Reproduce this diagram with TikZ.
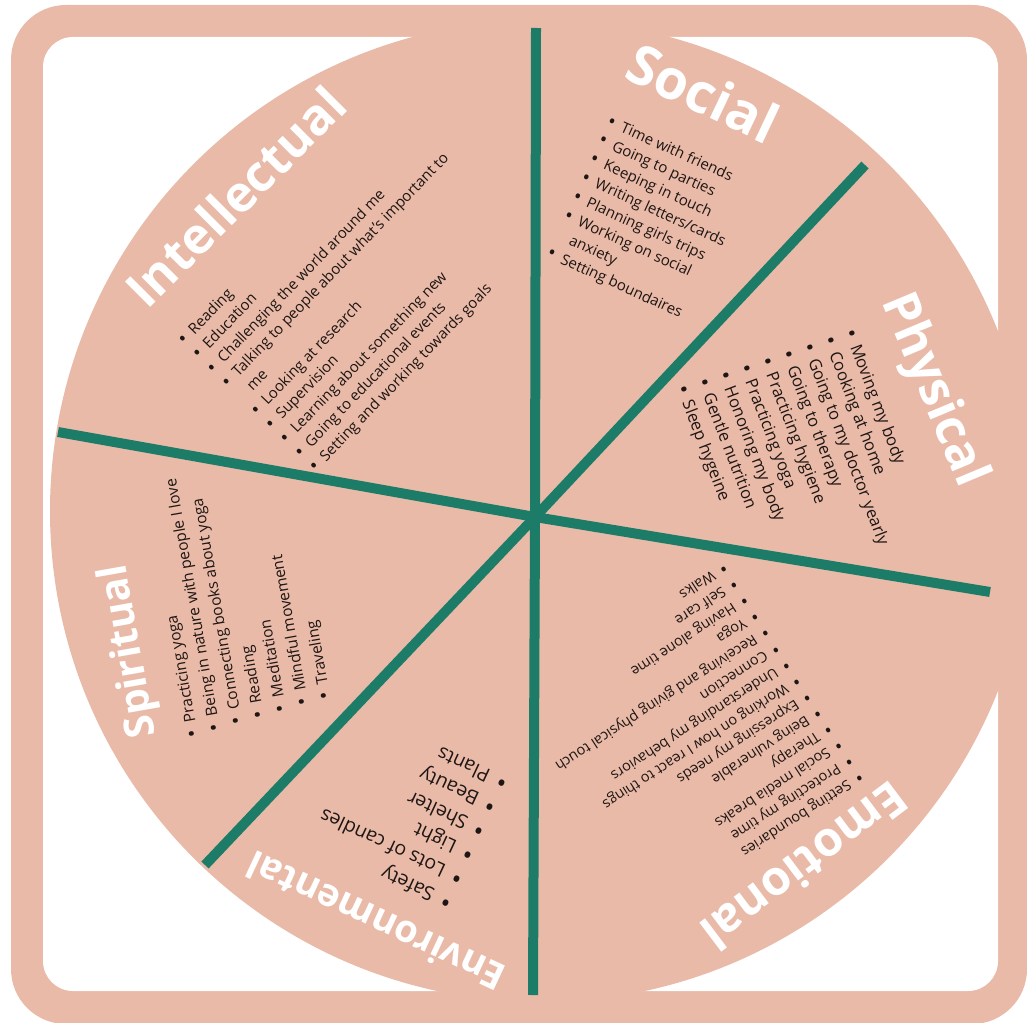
\documentclass[tikz,border=0pt]{standalone}
\usepackage{fontspec}
\setmainfont{Open Sans}
\definecolor{peach}{HTML}{E9BAA8}
\definecolor{wheelgreen}{HTML}{1D7C68}
\definecolor{ink}{HTML}{1E1614}
\newcommand{\bul}{\makebox[1em][l]{\raisebox{-0.08em}{\scalebox{1.35}{\textbullet}}}}
\newcommand{\cont}{\hspace*{1em}}

\begin{document}
\begin{tikzpicture}[x=1pt,y=-1pt,
    head/.style={font=\fontsize{#1}{#1}\selectfont\bfseries, text=white,
      inner sep=0pt, text height=0.72em, text depth=0pt},
    item/.style={anchor=base west, inner sep=0pt, text=ink, transform shape}]
  \useasboundingbox (0,0) rectangle (1027,1022);
  \fill[white] (0,0) rectangle (1027,1022);
  \fill[peach, rounded corners=55pt] (11,5) rectangle (1027,1024);
  \fill[white, rounded corners=30pt] (43,37) rectangle (998,991);
  \fill[peach] (541,511) circle[radius=491pt];
  %
  \coordinate (c) at (535,517);
  \foreach \x/\y in {536/28, 533/995, 865/165, 205/865, 990/592, 58/432}
    \draw[wheelgreen, line width=10pt] (c) -- (\x,\y);
  %
  \node[head=50, rotate=45] (intel) at (246,207) {Intellectual};
  \node[head=55, rotate=-25.3] (social) at (696,108) {Social};
  \node[head=50, rotate=-67.3] (phys) at (924,394) {Physical};
  \node[head=48, rotate=-143] (emo) at (796,855) {Emotional};
  \node[head=38, rotate=155] (env) at (380,912) {Environmental};
  \node[head=41, rotate=100] (spirit) at (137,650) {Spiritual};
  %
  \begin{scope}[shift={(182,340)}, rotate=46, font=\fontsize{15}{18}\selectfont]
    \foreach \t [count=\i from 0] in {\bul Reading, \bul Education,
        \bul Challenging the world around me,
        \bul Talking to people about what's important to, \cont me,
        \bul Looking at research, \bul Supervision,
        \bul Learning about something new, \bul Going to educational events,
        \bul Setting and working towards goals}
      \node[item] (intel\i) at (-3,{\i*20.3+5.7}) {\t};
  \end{scope}
  \begin{scope}[shift={(611,121)}, rotate=-24.5, font=\fontsize{15}{18}\selectfont]
    \foreach \t [count=\i from 0] in {\bul Time with friends, \bul Going to parties,
        \bul Keeping in touch, \bul Writing letters/cards, \bul Planning girls trips,
        \bul Working on social, \cont anxiety, \bul Setting boundaires}
      \node[item] (social\i) at (-3,{\i*20.7+5.7}) {\t};
  \end{scope}
  \begin{scope}[shift={(851,332)}, rotate=-69, font=\fontsize{16.5}{20}\selectfont]
    \foreach \t [count=\i from 0] in {Moving my body, Cooking at home,
        Going to my doctor yearly, Going to therapy, Practicing hygiene,
        Practicing yoga, Honoring my body, Gentle nutrition, Sleep hygeine}
      \node[item] (phys\i) at ({-3-\i},{\i*22.1+6.3}) {\bul\t};
  \end{scope}
  \begin{scope}[shift={(860,778)}, rotate=-147, font=\fontsize{14.5}{17}\selectfont]
    \foreach \t [count=\i from 0] in {Setting boundaries, Protecting my time,
        Social media breaks, Therapy, Being vulnerable, Expressing my needs,
        Working on how I react to things, Understanding my behaviors, Connection,
        Receiving and giving physical touch, Yoga, Having alone time, Self care, Walks}
      \node[item] (emo\i) at (-3,{\i*19.2+5.5}) {\bul\t};
  \end{scope}
  \begin{scope}[shift={(447,903)}, rotate=155, font=\fontsize{19.5}{23}\selectfont]
    \foreach \t [count=\i from 0] in {Safety, Lots of candles, Light, Shelter,
        Beauty, Plants}
      \node[item] (env\i) at (-4,{\i*26.4+7.4}) {\bul\t};
  \end{scope}
  \begin{scope}[shift={(192,735)}, rotate=100, font=\fontsize{15.5}{19}\selectfont]
    \foreach \t [count=\i from 0] in {Practicing yoga,
        Being in nature with people I love, Connecting books about yoga,
        Reading, Meditation, Mindful movement, Traveling}
      \node[item] (spirit\i) at ({-3+2.4*\i},{\i*22.8+5.9}) {\bul\t};
  \end{scope}
\end{tikzpicture}
\end{document}
